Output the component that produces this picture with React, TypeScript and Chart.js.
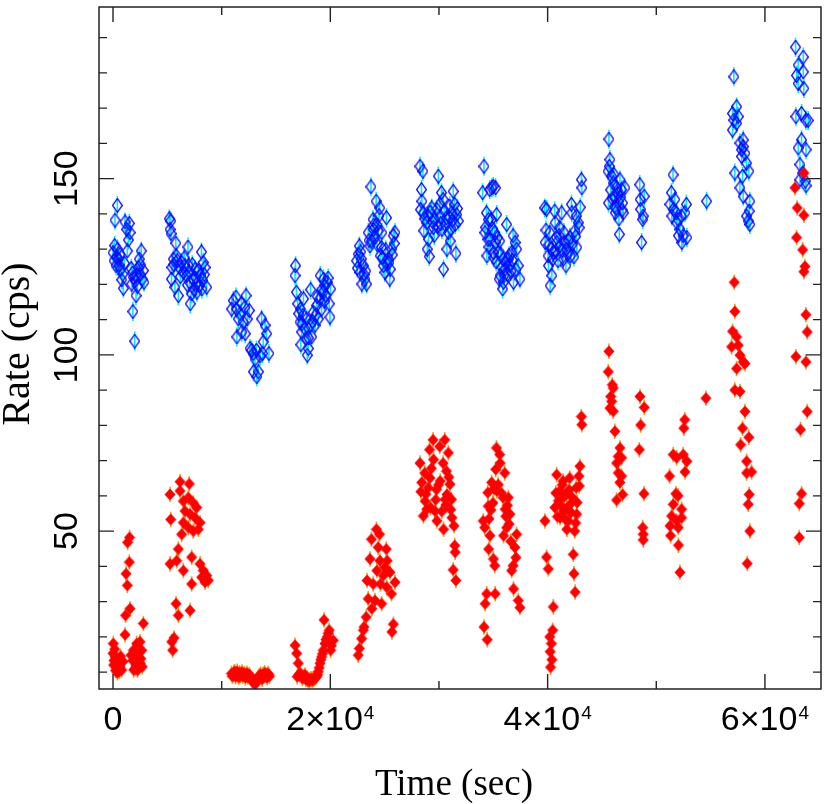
import { useEffect, useRef } from "react";
import { Chart, registerables } from "chart.js";

Chart.register(...registerables);

// ---------------- data (time in s, rate in cps) ----------------
const blueSeg1Time = [0, 92, 184, 276, 396, 420, 488, 708, 800, 892, 948, 1104, 1260, 1316, 1410, 1500, 1564, 1720, 1790, 1830, 1870, 2000, 2050, 2116, 2180, 2330, 2420, 2485, 2600, 2680, 2790, 150, 330, 560, 640, 1050, 1680, 2250, 2550, 2850];
const blueSeg1Rate = [129, 126.7, 138.2, 125.3, 142.4, 130, 127.2, 124.3, 121.3, 122.9, 118.9, 137.7, 135.6, 129.5, 132.6, 137.3, 134.7, 120.1, 123.2, 112.3, 122, 103.9, 121, 116.8, 122.5, 124.8, 127.2, 122.9, 129.5, 121.5, 123.9, 131, 127.8, 125.5, 128.5, 126, 124.5, 119.5, 125.5, 120.6];
const redSeg1Time = [0, 28, 92, 184, 340, 460, 644, 800, 920, 1104, 1150, 1196, 1316, 1340, 1500, 1520, 1564, 1650, 1810, 1870, 1900, 2024, 2180, 2330, 2485, 2500, 2640, 2790, 60, 150, 230, 300, 400, 520, 580, 700, 1950, 2100, 2250, 2400, 2560, 2700];
const redSeg1Rate = [15.3, 18.1, 13.3, 14.3, 12.5, 11, 11.5, 10.6, 13, 20.6, 26.1, 37.9, 34.6, 46.8, 41.2, 48.2, 28, 14.8, 13.3, 16.2, 10.6, 11, 18.1, 14.3, 18.6, 12.5, 16.2, 23.8, 12, 16.5, 10.5, 13.5, 9.8, 12.8, 10.2, 14.5, 15, 12, 10.5, 15.5, 13.8, 11.5];

const blueSeg2Time = [5180, 5250, 5310, 5340, 5380, 5420, 5550, 5700, 5780, 5820, 5920, 6010, 6100, 6320, 6470, 6625, 6780, 6900, 6960, 7060, 7110, 7240, 7390, 7550, 7680, 7720, 7850, 8010, 8140, 8180, 8310, 8470, 8620, 5600, 6200, 6550, 6850, 7000, 7300, 7450, 7600, 7950, 8250, 8400];
const blueSeg2Rate = [138.6, 135.6, 138, 134.4, 121.5, 124.8, 127.2, 119.2, 131.7, 128.1, 126.7, 116.8, 124.8, 126.2, 123.4, 125.3, 122.5, 130.6, 125.3, 120.6, 114.5, 117.3, 121.5, 124.3, 120.1, 117.8, 123.9, 122.5, 129.2, 118.7, 126.2, 124.8, 119.2, 125.6, 122.2, 127.5, 119.8, 123.7, 125.6, 118.6, 121.8, 119.6, 121.2, 122.8];
const redSeg2Time = [5250, 5250, 5310, 5400, 5490, 5610, 5800, 5860, 6010, 6010, 6170, 6170, 6320, 6470, 6470, 6470, 6630, 6930, 6930, 7020, 7090, 7090, 7240, 7240, 7390, 7390, 7550, 7700, 7850, 8010, 8010, 8160, 8310, 8470, 8620, 8770];
const redSeg2Rate = [60.4, 40.7, 53.3, 18.6, 16.2, 19.7, 29.4, 41.6, 44.9, 26.1, 64, 61.4, 49.1, 58.5, 52.4, 38.8, 55.7, 59.5, 51, 63.4, 54.8, 27.5, 42.6, 35, 58, 50, 53.8, 56.7, 50.5, 52.4, 40.7, 36.9, 38.8, 35.5, 37.4, 36];

const blueSeg3Time = [10920, 11070, 11320, 11360, 11400, 11530, 11690, 11820, 11860, 11990, 12130, 12170, 12240, 12360, 12540, 12610, 12760, 12890, 12930, 13070, 13200, 13240, 13370, 13530, 13680, 13770, 13830, 13990, 14140, 14350];
const blueSeg3Rate = [113, 115.4, 116.4, 113, 105.1, 110.2, 111.7, 114.5, 106.5, 109.3, 113.5, 106, 116.8, 110.2, 112.6, 101.8, 101.3, 100.4, 95.2, 98.8, 101.3, 93.8, 95.2, 99.7, 110.2, 100.4, 103.7, 108.4, 106, 100.4];
const redSeg3Time = [10900, 11050, 11200, 11350, 11500, 11650, 11800, 11950, 12100, 12250, 12400, 12550, 12700, 12850, 13000, 13100, 13200, 13350, 13500, 13650, 13800, 13950, 14100, 14250, 14400, 10980, 11120, 11280, 11430, 11580, 11730, 11880, 12030, 12180, 12330, 12480, 12620, 12780, 12930, 13050, 13150, 13280, 13420, 13580, 13720, 13880, 14030, 14180, 14320];
const redSeg3Rate = [9.6, 9.2, 10.1, 9.5, 9.0, 9.8, 9.4, 8.9, 9.6, 9.1, 8.6, 9.3, 8.2, 7.8, 7.2, 6.6, 7.5, 8.4, 9.0, 8.5, 9.3, 9.8, 9.1, 9.6, 8.8, 8.8, 9.9, 8.7, 10.2, 8.6, 9.1, 10.0, 9.4, 8.4, 9.7, 9.0, 8.6, 7.7, 7.0, 6.9, 7.3, 7.9, 8.8, 9.4, 8.0, 8.9, 9.2, 8.4, 9.3];

const blueSeg4Time = [16750, 16800, 16880, 17090, 17210, 17250, 17290, 17360, 17490, 17530, 17760, 17820, 17880, 17970, 18130, 18190, 18280, 18430, 18590, 18740, 18890, 19030, 19070, 19200, 19330, 19370, 19510, 19600, 19720, 19900, 19970, 20030, 17000, 17400, 17650, 18000, 18350, 18650, 18800, 19150, 19450, 19800];
const blueSeg4Rate = [122.5, 125.3, 117.8, 111.7, 109.3, 113, 102.9, 106.5, 111.2, 115.9, 104.6, 110.2, 99.9, 101.8, 108.4, 118.5, 105.1, 112.1, 108.4, 114, 110.2, 115.9, 122.5, 113, 117.8, 121.5, 119.6, 116.8, 120.6, 114.5, 110.7, 118.7, 114.5, 108.8, 107.5, 104.8, 109.5, 111.2, 116.5, 118.2, 115.2, 121.8];
const redSeg4Time = [16750, 16900, 16950, 17050, 17210, 17350, 17510, 17670, 17820, 17960, 18130, 18280, 18430, 18590, 18740, 18890, 19050, 19200, 19350, 19420, 19510, 19720, 19900, 20030, 20270, 17130, 17420, 17590, 17740, 17890, 18050, 18210, 18360, 18510, 18670, 18820, 18970, 19130, 19280, 19600, 19800, 20100];
const redSeg4Rate = [17.6, 15.3, 8.7, 12.5, 9.7, 8.9, 8.6, 9.2, 8, 7.6, 7.8, 7.9, 8, 8.3, 8.7, 10.1, 12.5, 14.3, 16.2, 24.8, 18.1, 20, 21.9, 16.2, 19, 9.3, 8.2, 8.8, 7.9, 8.3, 7.4, 8.1, 7.6, 8.2, 8.6, 9.3, 11.2, 13.5, 15.2, 19.2, 21, 17.5];

const blueSeg5Time = [22420, 22570, 22670, 22730, 22860, 22900, 23040, 23190, 23340, 23490, 23650, 23740, 23800, 23930, 23970, 24110, 24220, 24260, 24300, 24410, 24550, 24590, 24700, 24740, 24880, 25030, 25170, 25210, 25330, 25470, 25510, 25650, 25800, 25950, 22500, 22800, 23100, 23260, 23560, 24000, 24480, 24800, 25100, 25400, 25700, 25880];
const blueSeg5Rate = [126.7, 128.6, 130.9, 123.4, 127.2, 120.1, 125.3, 121.5, 120.1, 134.7, 130.9, 147.7, 132.3, 138.4, 135.6, 133.3, 143.6, 137, 131.4, 135.2, 141.7, 128.1, 130.5, 134.7, 125.3, 123.4, 138.9, 125.8, 127.2, 121.5, 124.3, 130, 133.8, 134.7, 124.6, 129.2, 122.8, 123.8, 132.5, 136.8, 139.5, 127.6, 129.8, 126.2, 128.4, 131.6];
const redSeg5Time = [22570, 22670, 22880, 23040, 23100, 23300, 23380, 23490, 23650, 23780, 23820, 23950, 24110, 24240, 24280, 24410, 24530, 24570, 24610, 24720, 24880, 25030, 25150, 25190, 25230, 25490, 25630, 25670, 25800, 25950];
const redSeg5Rate = [14.8, 16.7, 19.5, 21.9, 22.8, 25.6, 36, 30.8, 42.1, 47.7, 28, 35, 30.3, 50.5, 38.8, 45.4, 49.1, 41.6, 35, 29.4, 37.4, 39.7, 44.9, 34.1, 41.6, 38.3, 32.2, 21.4, 23.6, 35.5];

const blueSeg6Time = [28250, 28390, 28430, 28520, 28560, 28600, 28870, 28920, 29000, 29040, 29110, 29330, 29480, 29630, 29940, 30070, 30110, 30230, 30270, 30380, 30420, 30690, 30730, 30860, 30990, 31030, 31170, 31310, 31450, 31490, 31560, 31630, 31780, 28300, 28700, 29200, 29400, 29560, 29800, 29880, 30160, 30500, 30600, 30950, 31100, 31250, 31700];
const blueSeg6Rate = [153.5, 146.9, 143.6, 152.1, 140.3, 135.2, 137.5, 130, 139.4, 132.8, 127.9, 141.7, 136.1, 138.4, 150.7, 142.7, 139.4, 146, 135.6, 144.1, 124.3, 138.9, 130, 134.7, 142.2, 132.3, 140.3, 146.4, 142.7, 137, 128.8, 139.8, 138, 141.2, 138.6, 140.5, 137.8, 133.9, 141.3, 136.5, 137.2, 140.9, 136.8, 139.1, 135.8, 138.2, 141.5];
const redSeg6Time = [28250, 28410, 28560, 28690, 28730, 28870, 29020, 29130, 29170, 29210, 29460, 29500, 29630, 29770, 29810, 30070, 30110, 30380, 30420, 30530, 30570, 30690, 30730, 30860, 31010, 31150, 31190, 31310, 31380, 31450, 31490, 31560, 28330, 28800, 29300, 29700, 29950, 30250, 30640, 30900, 31080];
const redSeg6Rate = [69.3, 63.8, 54.3, 66.5, 58.5, 56.2, 62.3, 73.1, 65.1, 56.7, 75.9, 70.3, 55.7, 61.8, 52.9, 74, 64.2, 69.3, 50.5, 75.9, 59, 67, 60.4, 72.2, 63.3, 59, 53.8, 39, 51.5, 45.9, 44, 36, 61.2, 60.5, 67.8, 58.9, 63.1, 55.6, 57.4, 65.3, 56.1];

const blueSeg7Time = [34020, 34140, 34230, 34370, 34410, 34510, 34550, 34670, 34710, 34830, 34870, 34990, 35010, 35050, 35130, 35170, 35210, 35310, 35450, 35540, 35590, 35630, 35860, 35900, 35940, 36070, 36230, 36380, 36530, 36690, 36820, 36860, 37000, 37150, 37300, 37450, 34300, 34600, 34940, 35260, 35380, 35700, 35780, 36000, 36150, 36300, 36450, 36620, 36760, 37080];
const blueSeg7Rate = [146, 153.5, 134.7, 140.3, 128.1, 132.8, 138.4, 146.9, 132.8, 138.4, 147.4, 147.8, 129, 127.6, 134.7, 131.9, 147.4, 139.8, 129, 121.5, 132.3, 122.5, 118.7, 127.2, 120.6, 124.3, 137, 127.2, 125.3, 129, 133.8, 120.6, 131.9, 130, 125.3, 121.5, 136.2, 130.6, 135.8, 126.4, 133.2, 128.6, 124.9, 122.6, 126.3, 122.8, 128.1, 123.7, 126.8, 124.2];
const redSeg7Time = [34070, 34140, 34210, 34250, 34390, 34440, 34490, 34530, 34570, 34690, 34850, 34970, 35010, 35130, 35170, 35290, 35330, 35590, 35630, 35900, 35940, 36050, 36090, 36230, 36380, 36530, 36690, 36820, 36860, 36990, 37150, 37300, 37450, 34600, 34780, 35060, 35220, 35450, 35760, 36150, 36300, 36460, 36610, 37080];
const redSeg7Rate = [52.9, 22.8, 51, 29.4, 32.2, 19.2, 60.9, 57.1, 44.9, 48.7, 63.8, 58, 42.1, 40.2, 32.2, 73.6, 61.4, 71.7, 69.3, 59.5, 48.7, 66.5, 56.2, 51, 59.5, 54.8, 38.8, 40.2, 33.6, 45.4, 49.1, 30.3, 28.3, 53.5, 56, 62, 67.5, 63.2, 60.8, 54.2, 57.3, 52, 47.1, 42.5];

const blueSeg8Time = [39730, 39770, 39900, 40040, 40080, 40190, 40230, 40350, 40390, 40520, 40650, 40690, 40810, 40850, 41110, 41150, 41290, 41440, 41590, 41690, 41740, 42050, 42120, 42190, 42230, 42510, 42650, 42690, 42820, 43110, 43150, 39850, 40120, 40450, 40750, 40950, 41050, 41350, 41500, 41850, 41950, 42300, 42420, 42580, 42900, 43000];
const blueSeg8Rate = [141.7, 131.9, 141.3, 128.1, 125.3, 134.7, 119.6, 130, 122.5, 129, 140.8, 137.5, 133.3, 131.9, 136.1, 130.9, 140.3, 127.2, 131.9, 125.3, 130, 133.3, 128.1, 142.7, 140.3, 135.2, 139.4, 130.5, 137.5, 149.7, 147.4, 135.4, 131.2, 127.1, 129.4, 126.7, 133.8, 129.6, 134.7, 128.6, 132.4, 131.5, 127.8, 133.6, 136.1, 141.9];
const redSeg8Time = [39750, 39900, 40060, 40190, 40230, 40270, 40350, 40390, 40460, 40520, 40670, 40830, 41110, 41150, 41420, 41460, 41720, 41760, 41900, 42030, 42070, 42360, 42420, 42490, 42530, 42630, 42670, 42710, 42880, 42920, 42970, 43110, 43150, 40750, 40900, 41000, 41250, 41350, 41520, 41620, 41820, 41980, 42150, 42250, 42580];
const redSeg8Rate = [52.9, 42.6, 39.3, 20, 15.8, 11.4, 18.1, 13.5, 21.9, 28.5, 56.7, 66, 61.4, 53.8, 64.2, 55.7, 60.4, 50.5, 52.9, 65.1, 57.6, 43.4, 37.9, 50, 32.7, 62.3, 54.8, 58.1, 65.6, 62.8, 68.4, 82.5, 80.2, 60.8, 54.1, 58.6, 57.2, 63.1, 59.8, 53.4, 56.2, 61.7, 55.3, 59.6, 52.3];

const blueSeg9Time = [45560, 45600, 45640, 45680, 45730, 45890, 46040, 46150, 46190, 46230, 46350, 46500, 46600, 46650, 46810, 46900, 46960, 47120, 48480, 48520, 48560, 48650, 48750, 48800, 48890, 45800, 45950, 46100, 46280, 46420, 46560, 46720, 46860];
const blueSeg9Rate = [152.1, 143.1, 161.2, 153.5, 155.4, 150.7, 148.8, 145, 142.2, 140.3, 147.4, 143.6, 134.2, 149.7, 146.9, 143.1, 140.3, 147.4, 148.3, 144.1, 141.3, 131.9, 138.4, 139.4, 145, 146.8, 144.3, 151.2, 141.6, 145.7, 138.6, 144.7, 141.1];
const redSeg9Time = [45580, 45640, 45730, 45800, 45890, 45950, 46040, 46040, 46190, 46350, 46350, 46500, 46500, 46650, 46650, 46810, 46810, 46900, 48440, 48500, 48560, 48750, 48800, 48800, 48860, 48890];
const redSeg9Rate = [95.2, 101, 84.9, 88.2, 86.8, 91.5, 84, 90.6, 78.3, 69.3, 58.8, 71.2, 66.5, 73.6, 63.8, 70.8, 65.6, 60.4, 73.1, 88.2, 80.1, 51, 49.1, 47.5, 60.6, 85.1];

const blueSeg10Time = [51260, 51390, 51430, 51540, 51580, 51710, 51850, 51890, 52000, 52040, 52180, 52310, 52350, 52480, 52640, 52770, 52810, 54630];
const blueSeg10Rate = [142.7, 146, 139.4, 151.1, 141.3, 144.1, 140.3, 137.5, 138.4, 133.8, 135.6, 139.4, 131.9, 133.8, 140.3, 142.7, 133.3, 143.6];
const redSeg10Time = [51220, 51260, 51320, 51410, 51560, 51560, 51800, 51870, 51870, 52000, 52020, 52040, 52180, 52330, 52330, 52480, 52530, 52620, 52640, 52810, 54570];
const redSeg10Rate = [65.6, 51.5, 48.7, 54.3, 71.7, 57.6, 60.6, 70.8, 52.9, 60, 51, 46, 38.3, 56.2, 53.8, 71.7, 79.2, 81.6, 66.8, 69.8, 87.7];

const blueSeg11Time = [57020, 57020, 57140, 57140, 57230, 57390, 57390, 57540, 57700, 57700, 57850, 57850, 57940, 58000, 58000, 58000, 58160, 58310, 58310, 58460, 58520, 58550, 58610, 58610];
const blueSeg11Rate = [168.5, 163.8, 178.9, 166.6, 151.6, 170.4, 165.7, 167.6, 160.1, 147.4, 158.2, 156.3, 150.7, 161, 159.1, 145, 157.2, 154.4, 139.4, 138, 152.1, 140.8, 143.6, 137];
const redSeg11Time = [56930, 57020, 57180, 57230, 57230, 57390, 57390, 57540, 57700, 57700, 57760, 57940, 58000, 58160, 58160, 58310, 58310, 58370, 58460, 58520, 58550, 58610, 58770];
const redSeg11Rate = [102.3, 106.7, 120.6, 112.3, 90, 105.1, 96.1, 102.7, 99.9, 89.6, 74.5, 79.2, 98, 97.5, 83.9, 69.8, 66.5, 40.8, 57.6, 76.6, 60.4, 50, 66.8];

const blueSeg12Time = [62820, 62850, 62910, 63060, 63060, 63060, 63220, 63220, 63370, 63370, 63470, 63530, 63530, 63580, 63720, 63770, 63780, 63780, 63980];
const blueSeg12Rate = [187.3, 167.6, 179.3, 182.2, 177, 158.7, 154, 149.7, 168.5, 161, 151.6, 184.5, 180.3, 175.6, 149.3, 166.6, 158.2, 148, 166.5];
const redSeg12Time = [62760, 62850, 62910, 62970, 63160, 63160, 63270, 63370, 63470, 63580, 63580, 63580, 63680, 63770, 63770, 63890, 63890];
const redSeg12Rate = [147.4, 99.5, 133.3, 141.7, 57.8, 48.2, 78.8, 60.6, 129.8, 151.6, 139.6, 123.6, 125.1, 111.4, 98, 106.5, 83.9];

const BLUE_ERR = 2.7;
const RED_ERR = 2.2;

// axes
const X_MIN = -1290;
const X_MAX = 65160;
const Y_MIN = 5.2;
const Y_MAX = 198.7;
const X_MAJOR = [0, 20000, 40000, 60000];
const X_LABEL_BASE = ["0", "2×10", "4×10", "6×10"];
const X_LABEL_EXP = ["", "4", "4", "4"];
const X_MINOR = [10000, 30000, 50000];
const Y_MAJOR = [50, 100, 150];
const Y_LABELS = ["50", "100", "150"];
const Y_MINOR = [10, 20, 30, 40, 60, 70, 80, 90, 110, 120, 130, 140, 160, 170, 180, 190];
const X_TITLE = "Time (sec)";
const Y_TITLE = "Rate (cps)";

const blueTimes = [blueSeg1Time, blueSeg2Time, blueSeg3Time, blueSeg4Time, blueSeg5Time, blueSeg6Time, blueSeg7Time, blueSeg8Time, blueSeg9Time, blueSeg10Time, blueSeg11Time, blueSeg12Time];
const blueRates = [blueSeg1Rate, blueSeg2Rate, blueSeg3Rate, blueSeg4Rate, blueSeg5Rate, blueSeg6Rate, blueSeg7Rate, blueSeg8Rate, blueSeg9Rate, blueSeg10Rate, blueSeg11Rate, blueSeg12Rate];
const redTimes = [redSeg1Time, redSeg2Time, redSeg3Time, redSeg4Time, redSeg5Time, redSeg6Time, redSeg7Time, redSeg8Time, redSeg9Time, redSeg10Time, redSeg11Time, redSeg12Time];
const redRates = [redSeg1Rate, redSeg2Rate, redSeg3Rate, redSeg4Rate, redSeg5Rate, redSeg6Rate, redSeg7Rate, redSeg8Rate, redSeg9Rate, redSeg10Rate, redSeg11Rate, redSeg12Rate];

function buildPoints(times: number[][], rates: number[][]) {
  const out: { x: number; y: number }[] = [];
  times.forEach((seg, s) => {
    seg.forEach((t, i) => out.push({ x: t, y: rates[s][i] }));
  });
  return out;
}

function makeDiamond(w: number, h: number, fill: string | null, stroke: string | null, lw: number) {
  const c = document.createElement("canvas");
  c.width = w;
  c.height = h;
  const g = c.getContext("2d")!;
  const m = lw / 2;
  g.beginPath();
  g.moveTo(w / 2, m);
  g.lineTo(w - m, h / 2);
  g.lineTo(w / 2, h - m);
  g.lineTo(m, h / 2);
  g.closePath();
  if (fill) {
    g.fillStyle = fill;
    g.fill();
  }
  if (stroke) {
    g.strokeStyle = stroke;
    g.lineWidth = lw;
    g.stroke();
  }
  return c;
}

const SANS = '"Liberation Sans", Arial, Helvetica, sans-serif';
const SERIF = '"Liberation Serif", "Times New Roman", serif';

const errorBarPlugin = {
  id: "errorBars",
  beforeDatasetsDraw(chart: any) {
    const ctx = chart.ctx;
    const xs = chart.scales.x;
    const ys = chart.scales.y;
    const area = chart.chartArea;
    ctx.save();
    ctx.beginPath();
    ctx.rect(area.left, area.top, area.right - area.left, area.bottom - area.top);
    ctx.clip();
    chart.data.datasets.forEach((ds: any) => {
      ctx.strokeStyle = ds.errColor;
      ctx.lineWidth = 1.6;
      ctx.beginPath();
      ds.data.forEach((p: any) => {
        const px = xs.getPixelForValue(p.x);
        ctx.moveTo(px, ys.getPixelForValue(p.y - ds.err));
        ctx.lineTo(px, ys.getPixelForValue(p.y + ds.err));
      });
      ctx.stroke();
    });
    ctx.restore();
  },
};

const framePlugin = {
  id: "frame",
  afterDraw(chart: any) {
    const ctx = chart.ctx;
    const xs = chart.scales.x;
    const ys = chart.scales.y;
    const { left, right, top, bottom } = chart.chartArea;
    ctx.save();
    ctx.strokeStyle = "#222";
    ctx.lineWidth = 1.5;
    ctx.strokeRect(left, top, right - left, bottom - top);

    ctx.lineWidth = 1.4;
    ctx.beginPath();
    const xt = (v: number, len: number) => {
      const p = xs.getPixelForValue(v);
      ctx.moveTo(p, bottom);
      ctx.lineTo(p, bottom - len);
      ctx.moveTo(p, top);
      ctx.lineTo(p, top + len);
    };
    const yt = (v: number, len: number) => {
      const p = ys.getPixelForValue(v);
      ctx.moveTo(left, p);
      ctx.lineTo(left + len, p);
      ctx.moveTo(right, p);
      ctx.lineTo(right - len, p);
    };
    X_MAJOR.forEach((v) => xt(v, 15));
    X_MINOR.forEach((v) => xt(v, 8));
    Y_MAJOR.forEach((v) => yt(v, 15));
    Y_MINOR.forEach((v) => yt(v, 8));
    ctx.stroke();

    // x tick labels
    ctx.fillStyle = "#000";
    const mainFont = `34px ${SANS}`;
    const supFont = `19px ${SANS}`;
    ctx.textBaseline = "alphabetic";
    ctx.textAlign = "left";
    X_MAJOR.forEach((v, i) => {
      const p = xs.getPixelForValue(v);
      ctx.font = mainFont;
      const wb = ctx.measureText(X_LABEL_BASE[i]).width;
      ctx.font = supFont;
      const we = X_LABEL_EXP[i] ? ctx.measureText(X_LABEL_EXP[i]).width + 1 : 0;
      const start = p - (wb + we) / 2;
      ctx.font = mainFont;
      ctx.fillText(X_LABEL_BASE[i], start, 730);
      if (X_LABEL_EXP[i]) {
        ctx.font = supFont;
        ctx.fillText(X_LABEL_EXP[i], start + wb + 1, 719);
      }
    });

    // y tick labels (rotated)
    ctx.font = mainFont;
    ctx.textAlign = "center";
    Y_MAJOR.forEach((v, i) => {
      const p = ys.getPixelForValue(v);
      ctx.save();
      ctx.translate(77, p);
      ctx.rotate(-Math.PI / 2);
      ctx.fillText(Y_LABELS[i], 0, 0);
      ctx.restore();
    });

    // titles
    ctx.font = `37px ${SERIF}`;
    ctx.textAlign = "center";
    ctx.fillText(X_TITLE, 454, 795);
    ctx.save();
    ctx.font = `40px ${SERIF}`;
    ctx.translate(29, 344);
    ctx.rotate(-Math.PI / 2);
    ctx.fillText(Y_TITLE, 0, 0);
    ctx.restore();
    ctx.restore();
  },
};

export default function App() {
  const ref = useRef<HTMLCanvasElement>(null);
  useEffect(() => {
    const canvas = ref.current!;
    const blueImg = makeDiamond(11, 15, null, "#0a0aff", 1.3);
    const redImg = makeDiamond(12, 13, "#ff0000", null, 1);
    const chart = new Chart(canvas, {
      type: "scatter",
      data: {
        datasets: [
          {
            label: "red",
            data: buildPoints(redTimes, redRates),
            pointStyle: redImg as any,
            pointRadius: 6,
            backgroundColor: "#ff0000",
            borderColor: "#ff0000",
            err: RED_ERR,
            errColor: "#ff9a1a",
          } as any,
          {
            label: "blue",
            data: buildPoints(blueTimes, blueRates),
            pointStyle: blueImg as any,
            pointRadius: 6,
            backgroundColor: "#0a0aff",
            borderColor: "#0a0aff",
            err: BLUE_ERR,
            errColor: "#00e8ff",
          } as any,
        ],
      },
      options: {
        responsive: false,
        animation: false,
        devicePixelRatio: 1,
        events: [],
        layout: { padding: { left: 99, right: 9, top: 3, bottom: 115 } },
        scales: {
          x: { type: "linear", min: X_MIN, max: X_MAX, display: false },
          y: { type: "linear", min: Y_MIN, max: Y_MAX, display: false },
        },
        plugins: { legend: { display: false }, tooltip: { enabled: false } },
      },
      plugins: [errorBarPlugin, framePlugin],
    });
    return () => chart.destroy();
  }, []);
  return (
    <div style={{ position: "absolute", left: 0, top: 0, width: 830, height: 804, background: "#fff" }}>
      <canvas ref={ref} width={830} height={804} style={{ display: "block", width: 830, height: 804 }} />
    </div>
  );
}
